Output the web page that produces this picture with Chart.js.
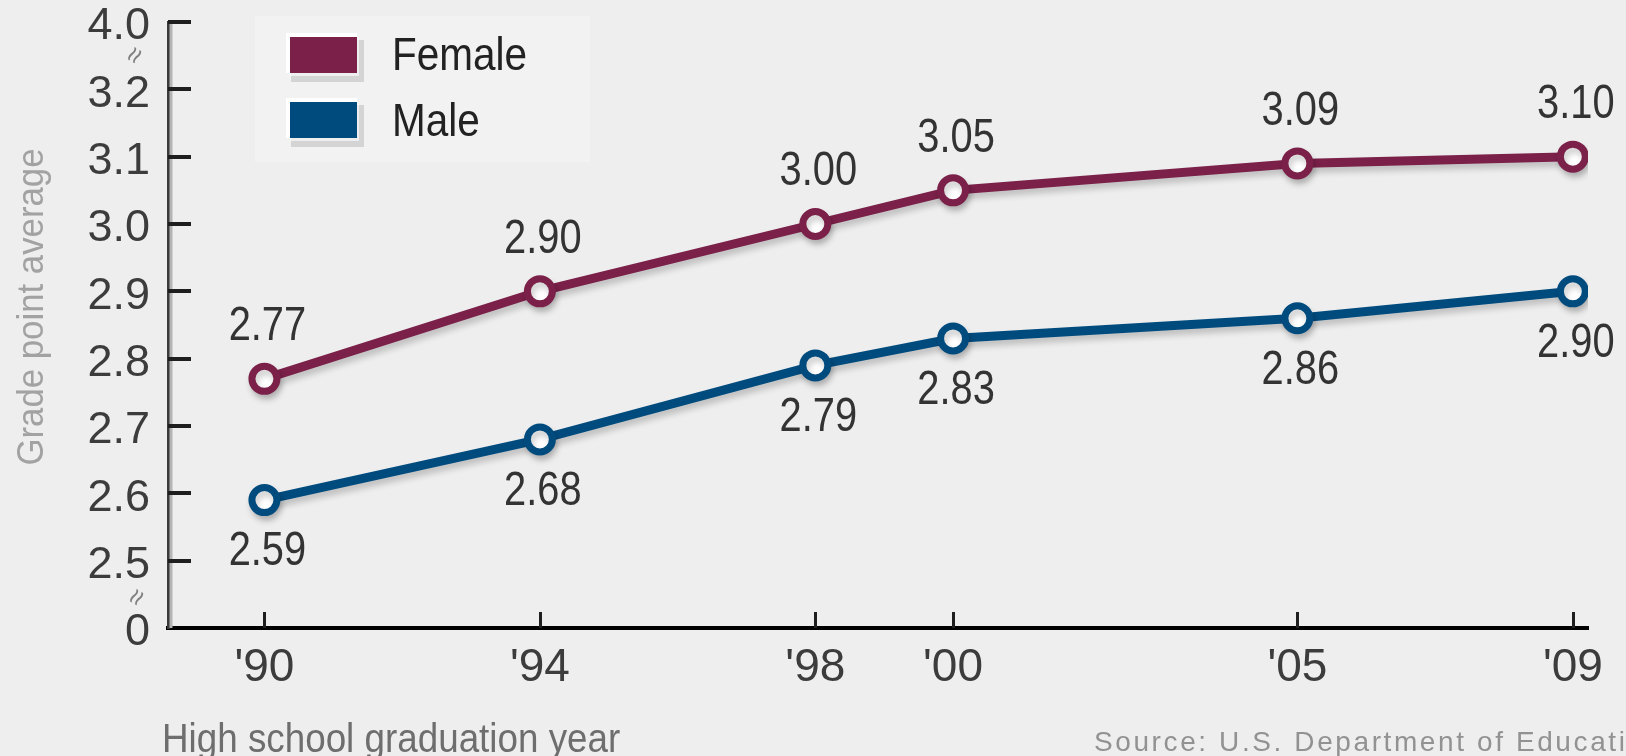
<!DOCTYPE html>
<html>
<head>
<meta charset="utf-8">
<script src="https://cdn.jsdelivr.net/npm/chart.js@4"></script>
<style>
    html, body { margin: 0; padding: 0; background: #eeeeee; }
    #wrap { width: 1626px; height: 756px; position: relative; }
</style>
</head>
<body>
<div id="wrap"><canvas id="gpaChart" width="1626" height="756"></canvas></div>
<script>
// Chart data
const years = [1990, 1994, 1998, 2000, 2005, 2009];
const yearLabels = ["'90", "'94", "'98", "'00", "'05", "'09"];
const femaleGpa = [2.77, 2.90, 3.00, 3.05, 3.09, 3.10];
const maleGpa = [2.59, 2.68, 2.79, 2.83, 2.86, 2.90];
// broken axis: bottom slot stands for 0, top slot for 4.0
const yTickValues = [2.4, 2.5, 2.6, 2.7, 2.8, 2.9, 3.0, 3.1, 3.2, 3.3];
const yTickLabels = ['0', '2.5', '2.6', '2.7', '2.8', '2.9', '3.0', '3.1', '3.2', '4.0'];

const FONT = '"Liberation Sans", Arial, Helvetica, sans-serif';
const FEMALE = '#7a2049';
const MALE = '#004b7e';

// draw text squeezed horizontally (the original type is narrow)
function squeezedText(ctx, text, x, y, sx) {
    ctx.save();
    ctx.translate(x, y);
    ctx.scale(sx, 1);
    ctx.fillText(text, 0, 0);
    ctx.restore();
}

// Soft drop shadow under the lines
const shadowPlugin = {
    id: 'lineShadow',
    beforeDatasetDraw(chart) {
        const ctx = chart.ctx;
        ctx.save();
        ctx.shadowColor = 'rgba(0, 0, 0, 0.2)';
        ctx.shadowBlur = 6;
        ctx.shadowOffsetX = 2;
        ctx.shadowOffsetY = 5;
    },
    afterDatasetDraw(chart) {
        chart.ctx.restore();
    }
};

// Inward tick marks on both axes
const tickMarks = {
    id: 'tickMarks',
    beforeDatasetsDraw(chart) {
        const { ctx, scales: { x, y }, chartArea } = chart;
        ctx.save();
        // light edge next to the y axis line
        ctx.strokeStyle = '#b4b4b4';
        ctx.lineWidth = 3;
        ctx.beginPath();
        ctx.moveTo(chartArea.left + 3, chartArea.top);
        ctx.lineTo(chartArea.left + 3, chartArea.bottom);
        ctx.stroke();

        ctx.strokeStyle = '#1e1e1e';
        ctx.lineWidth = 4;
        y.ticks.forEach((t, i) => {
            if (i === 0) return;
            const py = Math.round(y.getPixelForValue(t.value));
            ctx.beginPath();
            ctx.moveTo(chartArea.left, py);
            ctx.lineTo(chartArea.left + 23, py);
            ctx.stroke();
        });
        ctx.lineWidth = 3;
        x.ticks.forEach(t => {
            const px = Math.round(x.getPixelForValue(t.value)) + 0.5;
            ctx.beginPath();
            ctx.moveTo(px, chartArea.bottom);
            ctx.lineTo(px, chartArea.bottom - 16);
            ctx.stroke();
        });
        ctx.restore();
    }
};

// Value labels: female above, male below
const valueLabels = {
    id: 'valueLabels',
    afterDatasetsDraw(chart) {
        const ctx = chart.ctx;
        ctx.save();
        ctx.font = '48px ' + FONT;
        ctx.fillStyle = '#333333';
        ctx.textAlign = 'center';
        ctx.textBaseline = 'middle';
        chart.data.datasets.forEach((ds, di) => {
            const meta = chart.getDatasetMeta(di);
            const dir = ds.labelSide === 'above' ? -1 : 1;
            meta.data.forEach((pt, i) => {
                squeezedText(ctx, ds.data[i].y.toFixed(2), pt.x + 3, pt.y + dir * 52, 0.83);
            });
        });
        ctx.restore();
    }
};

// Legend box in the upper left
const boxLegend = {
    id: 'boxLegend',
    afterDraw(chart) {
        const ctx = chart.ctx;
        ctx.save();
        ctx.fillStyle = '#f2f2f2';
        ctx.fillRect(255, 16, 335, 146);
        chart.data.datasets.forEach((ds, i) => {
            const sx = 290, sy = 37 + i * 65, sw = 67, sh = 36;
            ctx.fillStyle = 'rgba(0, 0, 0, 0.12)';
            ctx.fillRect(sx + 1, sy + 3, sw + 6, sh + 6);
            ctx.fillStyle = '#ffffff';
            ctx.fillRect(sx - 4, sy - 4, sw + 4, sh + 4);
            ctx.fillStyle = ds.borderColor;
            ctx.fillRect(sx, sy, sw, sh);
            ctx.fillStyle = 'rgba(255, 255, 255, 0.6)';
            ctx.fillRect(sx, sy + sh, sw + 2, 3);
            ctx.fillRect(sx + sw, sy, 2, sh);
            ctx.font = '46px ' + FONT;
            ctx.fillStyle = '#222222';
            ctx.textAlign = 'left';
            ctx.textBaseline = 'alphabetic';
            squeezedText(ctx, ds.label, 392, sy + 33 + (i ? 1 : 0), 0.88);
        });
        ctx.restore();
    }
};

// Axis titles, source line and axis break marks
const annotations = {
    id: 'annotations',
    afterDraw(chart) {
        const ctx = chart.ctx;
        ctx.save();
        ctx.fillStyle = '#a2a2a2';
        ctx.font = '37px ' + FONT;
        ctx.textAlign = 'center';
        ctx.textBaseline = 'alphabetic';
        ctx.translate(43, 307);
        ctx.rotate(-Math.PI / 2);
        squeezedText(ctx, 'Grade point average', 0, 0, 0.94);
        ctx.restore();

        ctx.save();
        ctx.fillStyle = '#6e6e6e';
        ctx.font = '40px ' + FONT;
        ctx.textAlign = 'left';
        ctx.textBaseline = 'alphabetic';
        squeezedText(ctx, 'High school graduation year', 162, 752, 0.92);

        ctx.fillStyle = '#929292';
        ctx.font = '28px ' + FONT;
        ctx.letterSpacing = '2.6px';
        ctx.fillText('Source: U.S. Department of Education', 1094, 751);
        ctx.letterSpacing = '0px';

        ctx.fillStyle = '#808080';
        ctx.font = '28px ' + FONT;
        ctx.textAlign = 'center';
        ctx.textBaseline = 'middle';
        [[136, 56], [138, 598]].forEach(([bx, by]) => {
            ctx.save();
            ctx.translate(bx, by);
            ctx.rotate(-Math.PI / 3);
            ctx.fillText('\u2248', 0, 0);
            ctx.restore();
        });
        ctx.restore();
    }
};

const ctx = document.getElementById('gpaChart').getContext('2d');
const gpaChart = new Chart(ctx, {
    type: 'line',
    data: {
        datasets: [{
            label: 'Female',
            labelSide: 'above',
            data: femaleGpa,
            borderColor: FEMALE,
            pointBorderColor: FEMALE,
            pointBackgroundColor: '#ffffff'
        }, {
            label: 'Male',
            labelSide: 'below',
            data: maleGpa,
            borderColor: MALE,
            pointBorderColor: MALE,
            pointBackgroundColor: '#ffffff'
        }].map(ds => Object.assign(ds, {
            data: ds.data.map((v, i) => ({ x: years[i], y: v })),
            borderWidth: 9,
            pointRadius: 12.5,
            pointBorderWidth: 7,
            tension: 0,
            fill: false
        }))
    },
    options: {
        responsive: false,
        animation: false,
        layout: {
            padding: { top: 22, right: 38, left: 0, bottom: 0 }
        },
        plugins: {
            legend: { display: false },
            tooltip: { enabled: false }
        },
        scales: {
            x: {
                type: 'linear',
                min: 1988.6,
                max: 2009.22,
                afterBuildTicks: scale => {
                    scale.ticks = years.map(v => ({ value: v }));
                },
                afterFit: scale => {
                    scale.height = 128;
                    scale.paddingLeft = 0;
                    scale.paddingRight = 0;
                },
                grid: { display: false, drawTicks: false },
                border: { display: true, color: '#000000', width: 4 },
                ticks: {
                    autoSkip: false,
                    maxRotation: 0,
                    padding: 17,
                    color: '#3c3c3c',
                    font: { family: FONT, size: 46, lineHeight: 1 },
                    callback: (value, index) => yearLabels[index]
                }
            },
            y: {
                type: 'linear',
                min: 2.4,
                max: 3.3,
                afterBuildTicks: scale => {
                    scale.ticks = yTickValues.map(v => ({ value: v }));
                },
                afterFit: scale => {
                    scale.width = 168;
                    scale.paddingTop = 0;
                    scale.paddingBottom = 0;
                },
                grid: { display: false, drawTicks: false },
                border: { display: true, color: '#3a3a3a', width: 3 },
                ticks: {
                    autoSkip: false,
                    padding: 18,
                    labelOffset: 5,
                    color: '#3c3c3c',
                    font: { family: FONT, size: 45, lineHeight: 1 },
                    callback: (value, index) => yTickLabels[index]
                }
            }
        }
    },
    plugins: [shadowPlugin, tickMarks, valueLabels, boxLegend, annotations]
});
</script>
</body>
</html>
